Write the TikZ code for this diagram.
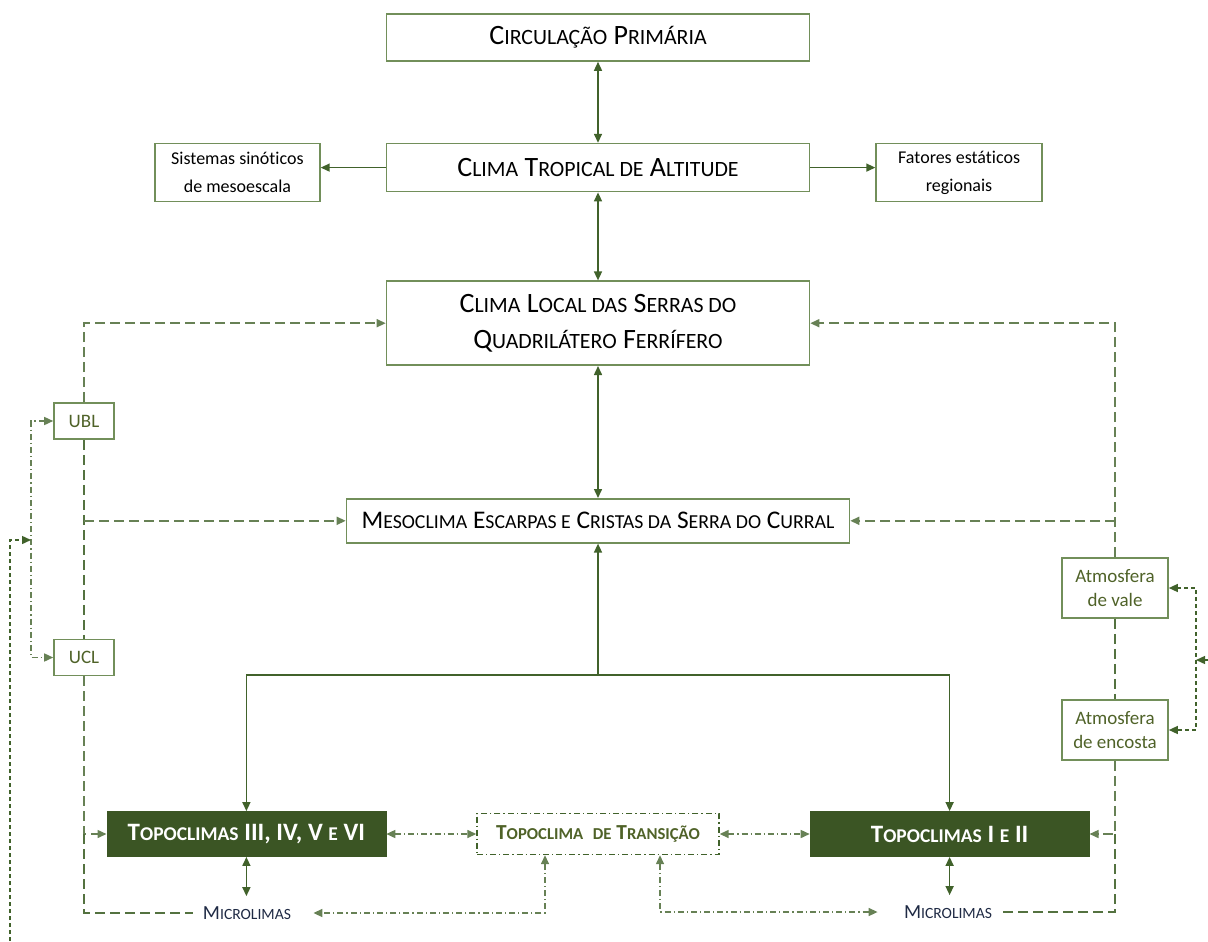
\documentclass[tikz,border=0pt]{standalone}
\usepackage{fontspec}
\setmainfont{Carlito}[Ligatures=NoCommon]
\usepackage{graphicx}
\usepackage{xcolor}
\usetikzlibrary{arrows.meta, positioning}
\definecolor{lin}{HTML}{41622B}
\definecolor{frame}{HTML}{728F5A}
\definecolor{topofill}{HTML}{3B5524}
\definecolor{olive}{HTML}{4F6228}
\definecolor{navy}{HTML}{1F2A44}
\newcommand{\smc}[1]{\scalebox{.78}{#1}}
\tikzset{
  main/.style={rectangle, draw=frame, line width=0.8pt, fill=white, align=center, font=\fontsize{14}{18}\selectfont, inner sep=0pt},
  side/.style={rectangle, draw=frame, line width=0.8pt, align=center, font=\fontsize{9}{14}\selectfont, inner sep=0pt},
  layer/.style={rectangle, draw=frame, line width=0.8pt, align=center, text=olive, font=\fontsize{9.5}{12}\selectfont, inner sep=0pt},
  dark/.style={rectangle, draw=topofill, fill=topofill, text=white, align=center, font=\bfseries\fontsize{12.5}{15}\selectfont, inner sep=0pt},
  transbox/.style={rectangle, draw=lin, line width=0.7pt, dash pattern=on 3pt off 1.5pt on 0.6pt off 1.5pt, text=olive, align=center, font=\bfseries\fontsize{10.7}{13}\selectfont, inner sep=0pt},
  micro/.style={text=navy, font=\fontsize{10}{12}\selectfont, inner xsep=5pt, inner ysep=2pt},
  arr/.style={->, line width=0.75pt, lin},
  arr2/.style={<->, line width=0.75pt, lin},
  dsh/.style={->, line width=0.75pt, lin!80!white, dash pattern=on 5pt off 2.5pt},
  dshline/.style={line width=0.75pt, lin!90!white, dash pattern=on 5pt off 2.5pt},
  dd/.style={<->, line width=0.75pt, lin!80!white, dash pattern=on 3pt off 1.5pt on 0.6pt off 1.5pt},
  sdsh/.style={line width=0.7pt, lin, dash pattern=on 2pt off 1.5pt},
}

\begin{document}
\begin{tikzpicture}[x=0.5pt, y=-0.5pt, >={Triangle[length=4.5pt,width=4pt]}]
\useasboundingbox (0,0) rectangle (1208,941);
\node[main, minimum width=211.5pt, minimum height=23.5pt] (circ) at (598,37.5) {C\smc{IRCULAÇÃO} P\smc{RIMÁRIA}};
\node[main, minimum width=211.5pt, minimum height=24pt, below=40.5pt of circ] (trop) {C\smc{LIMA} T\smc{ROPICAL DE} A\smc{LTITUDE}};
\node[side, minimum width=82.5pt, minimum height=29pt, left=32.5pt of trop, yshift=-2.5pt] (sist) {Sistemas sinóticos\\de mesoescala};
\node[side, minimum width=83pt, minimum height=29pt, right=32.5pt of trop, yshift=-2.5pt] (fat) {Fatores estáticos\\regionais};
\node[main, minimum width=211.5pt, minimum height=42pt, below=44pt of trop] (local) {C\smc{LIMA} L\smc{OCAL DAS} S\smc{ERRAS DO}\\Q\smc{UADRILÁTERO} F\smc{ERRÍFERO}};
\node[main, minimum width=251.5pt, minimum height=22pt, below=66pt of local, font=\fontsize{12.7}{15}\selectfont] (meso) {M\smc{ESOCLIMA} E\smc{SCARPAS E} C\smc{RISTAS DA} S\smc{ERRA DO} C\smc{URRAL}};

\node[transbox, minimum width=121pt, minimum height=20.5pt] (trans) at (598,834) {T\smc{OPOCLIMA} \ \smc{DE} T\smc{RANSIÇÃO}};
\node[dark, minimum width=139.5pt, minimum height=22.5pt, left=45pt of trans] (topoL) {T\smc{OPOCLIMAS} III, IV, V \smc{E} VI};
\node[dark, minimum width=139.5pt, minimum height=22.5pt, right=45pt of trans] (topoR) {T\smc{OPOCLIMAS} I \smc{E} II};
\node[micro] (micL) at (247,913) {M\smc{ICROLIMAS}};
\node[micro] (micR) at (948,912) {M\smc{ICROLIMAS}};

\node[layer, minimum width=30pt, minimum height=18pt] (ubl) at (84,421) {UBL};
\node[layer, minimum width=30pt, minimum height=18pt] (ucl) at (84,657.5) {UCL};
\node[layer, minimum width=53pt, minimum height=30pt] (vale) at (1115,588) {Atmosfera\\de vale};
\node[layer, minimum width=53pt, minimum height=30pt] (encosta) at (1115,730) {Atmosfera\\de encosta};

\coordinate (split) at (598,675);
\coordinate (lj) at (31,540);
\coordinate (lfeed) at (10,941);
\coordinate (rj) at (1196,660);
\coordinate (rfeed) at (1208,660);

% eixo central
\draw[arr2] (circ) -- (trop);
\draw[arr2] (trop) -- (local);
\draw[arr2] (local) -- (meso);
\draw[arr] (trop.west) -- (trop.west -| sist.east);
\draw[arr] (trop.east) -- (trop.east -| fat.west);
\draw[arr] (split) -- (meso);
\draw[arr] (split) -| (topoL);
\draw[arr] (split) -| (topoR);
\draw[arr2, shorten >=3pt] (topoL.south) -- (topoL.south |- micL.north);
\draw[arr2, shorten >=3pt] (topoR.south) -- (topoR.south |- micR.north);

% lado esquerdo
\draw[dsh] (ubl.north) |- (local.west);
\draw[dshline] (ubl.south) -- (ucl.north);
\draw[dsh] (ubl.south |- meso.west) -- (meso.west);
\draw[dsh] (ucl.south) |- (topoL.west);
\draw[dshline] (topoL.west -| ucl.south) |- (micL.west);
\draw[dd] (ubl.west) -| (lj) |- (ucl.west);
\draw[sdsh, ->] (lfeed) |- (lj);

% lado direito
\draw[dsh] (vale.north) |- (local.east);
\draw[dsh] (vale.north |- meso.east) -- (meso.east);
\draw[dshline] (vale.south) -- (encosta.north);
\draw[dsh] (encosta.south) |- (topoR.east);
\draw[dshline] (topoR.east -| encosta.south) |- (micR.east);
\draw[sdsh, <->] (vale.east) -| (rj) |- (encosta.east);
\draw[sdsh, ->] (rfeed) -- (rj);

% transicao
\draw[dd] (topoL) -- (trans);
\draw[dd] (trans) -- (topoR);
\draw[dd, shorten >=6pt] ([xshift=-26.5pt]trans.south) |- (micL.east);
\draw[dd, shorten >=8pt] ([xshift=31pt]trans.south) |- (micR.west);
\end{tikzpicture}
\end{document}
